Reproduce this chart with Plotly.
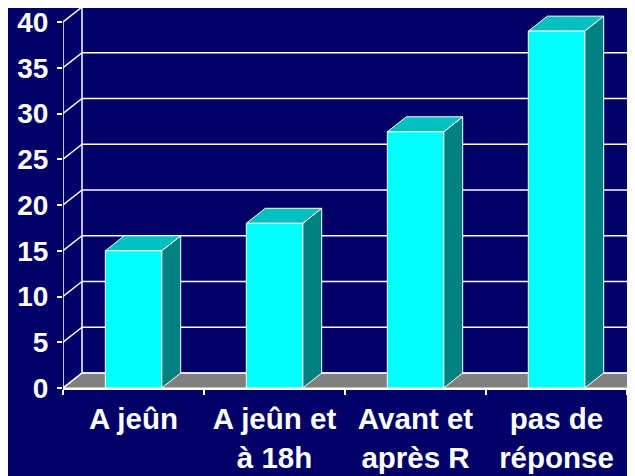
import plotly.graph_objects as go

# ---- data ----
categories = ["A jeûn", "A jeûn et<br>à 18h", "Avant et<br>après R", "pas de<br>réponse"]
values = [15, 18, 28, 39]
y_ticks = [0, 5, 10, 15, 20, 25, 30, 35, 40]

# ---- style ----
BG = "#000066"
FRONT = "#00FFFF"
TOP = "#00C0C0"
SIDE = "#008080"
FLOOR = "#808080"
LINE = "white"
XFONT = dict(family="Liberation Sans, Arial, sans-serif", size=29.5, color="white", weight="bold")
YFONT = dict(family="Liberation Sans, Arial, sans-serif", size=28, color="white", weight="bold")

PX_X = 141.0         # pixels per category
PX_Y = 9.15          # pixels per value unit
DX = 19 / PX_X       # depth offset in category units
DY = 15 / PX_Y       # depth offset in value units
BAR_W = 0.40
n = len(categories)
x0 = -0.5
x_end = n - 0.5
ML, MT, MB = 55, 0, 96
x_max = x0 + (635 - ML) / PX_X
y_top = (476 - MT - MB) / PX_Y

fig = go.Figure()

def poly(xs, ys, fill, lw=1.0, lc=LINE):
    fig.add_trace(go.Scatter(x=xs, y=ys, mode="lines", fill="toself", fillcolor=fill,
                             line=dict(color=lc, width=lw), hoverinfo="skip", showlegend=False))

def lines(xs, ys, lw=1.5):
    fig.add_trace(go.Scatter(x=xs, y=ys, mode="lines", line=dict(color=LINE, width=lw),
                             hoverinfo="skip", showlegend=False))

# floor
poly([x0, x0 + DX, x_end + DX, x_end, x0], [0, DY, DY, 0, 0], FLOOR, lw=1.0, lc=LINE)

# back wall gridlines
gx, gy = [], []
for v in y_ticks:
    gx += [x0 + DX, x_end + DX, None]
    gy += [v + DY, v + DY, None]
lines(gx, gy)
# back wall left edge
lines([x0 + DX, x0 + DX], [DY, y_ticks[-1] + DY])
# side wall diagonals
sx, sy = [], []
for v in y_ticks:
    sx += [x0, x0 + DX, None]
    sy += [v, v + DY, None]
lines(sx, sy)
# front y axis line
lines([x0, x0], [0, y_ticks[-1]])

# bars
for i, v in enumerate(values):
    l = i - BAR_W / 2
    r = i + BAR_W / 2
    poly([r, r + DX, r + DX, r, r], [0, DY, v + DY, v, 0], SIDE)      # side face
    poly([l, l + DX, r + DX, r, l], [v, v + DY, v + DY, v, v], TOP)   # top face
    poly([l, r, r, l, l], [0, 0, v, v, 0], FRONT)                     # front face

fig.update_layout(
    width=635, height=476,
    margin=dict(l=ML, r=0, t=MT, b=MB, pad=0),
    paper_bgcolor=BG, plot_bgcolor=BG,
    showlegend=False,
    xaxis=dict(range=[x0, x_max], tickmode="array", tickvals=list(range(n)), ticktext=categories,
               ticks="", showgrid=False, zeroline=False, showline=True, linecolor=LINE, linewidth=1.5,
               tickfont=XFONT, automargin=False, ticklabelstandoff=4, ticklabeloverflow="allow",
               minor=dict(tickmode="array", tickvals=[k - 0.5 for k in range(n + 1)], ticks="outside",
                          ticklen=5, tickwidth=1.5, tickcolor=LINE, showgrid=False)),
    yaxis=dict(range=[0, y_top], tickmode="array", tickvals=y_ticks, ticks="outside", ticklen=5,
               tickwidth=1.5, tickcolor=LINE, showgrid=False, zeroline=False, showline=False,
               tickfont=YFONT, automargin=False, ticklabelstandoff=3, ticklabeloverflow="allow"),
)

fig.write_html("out.html")
